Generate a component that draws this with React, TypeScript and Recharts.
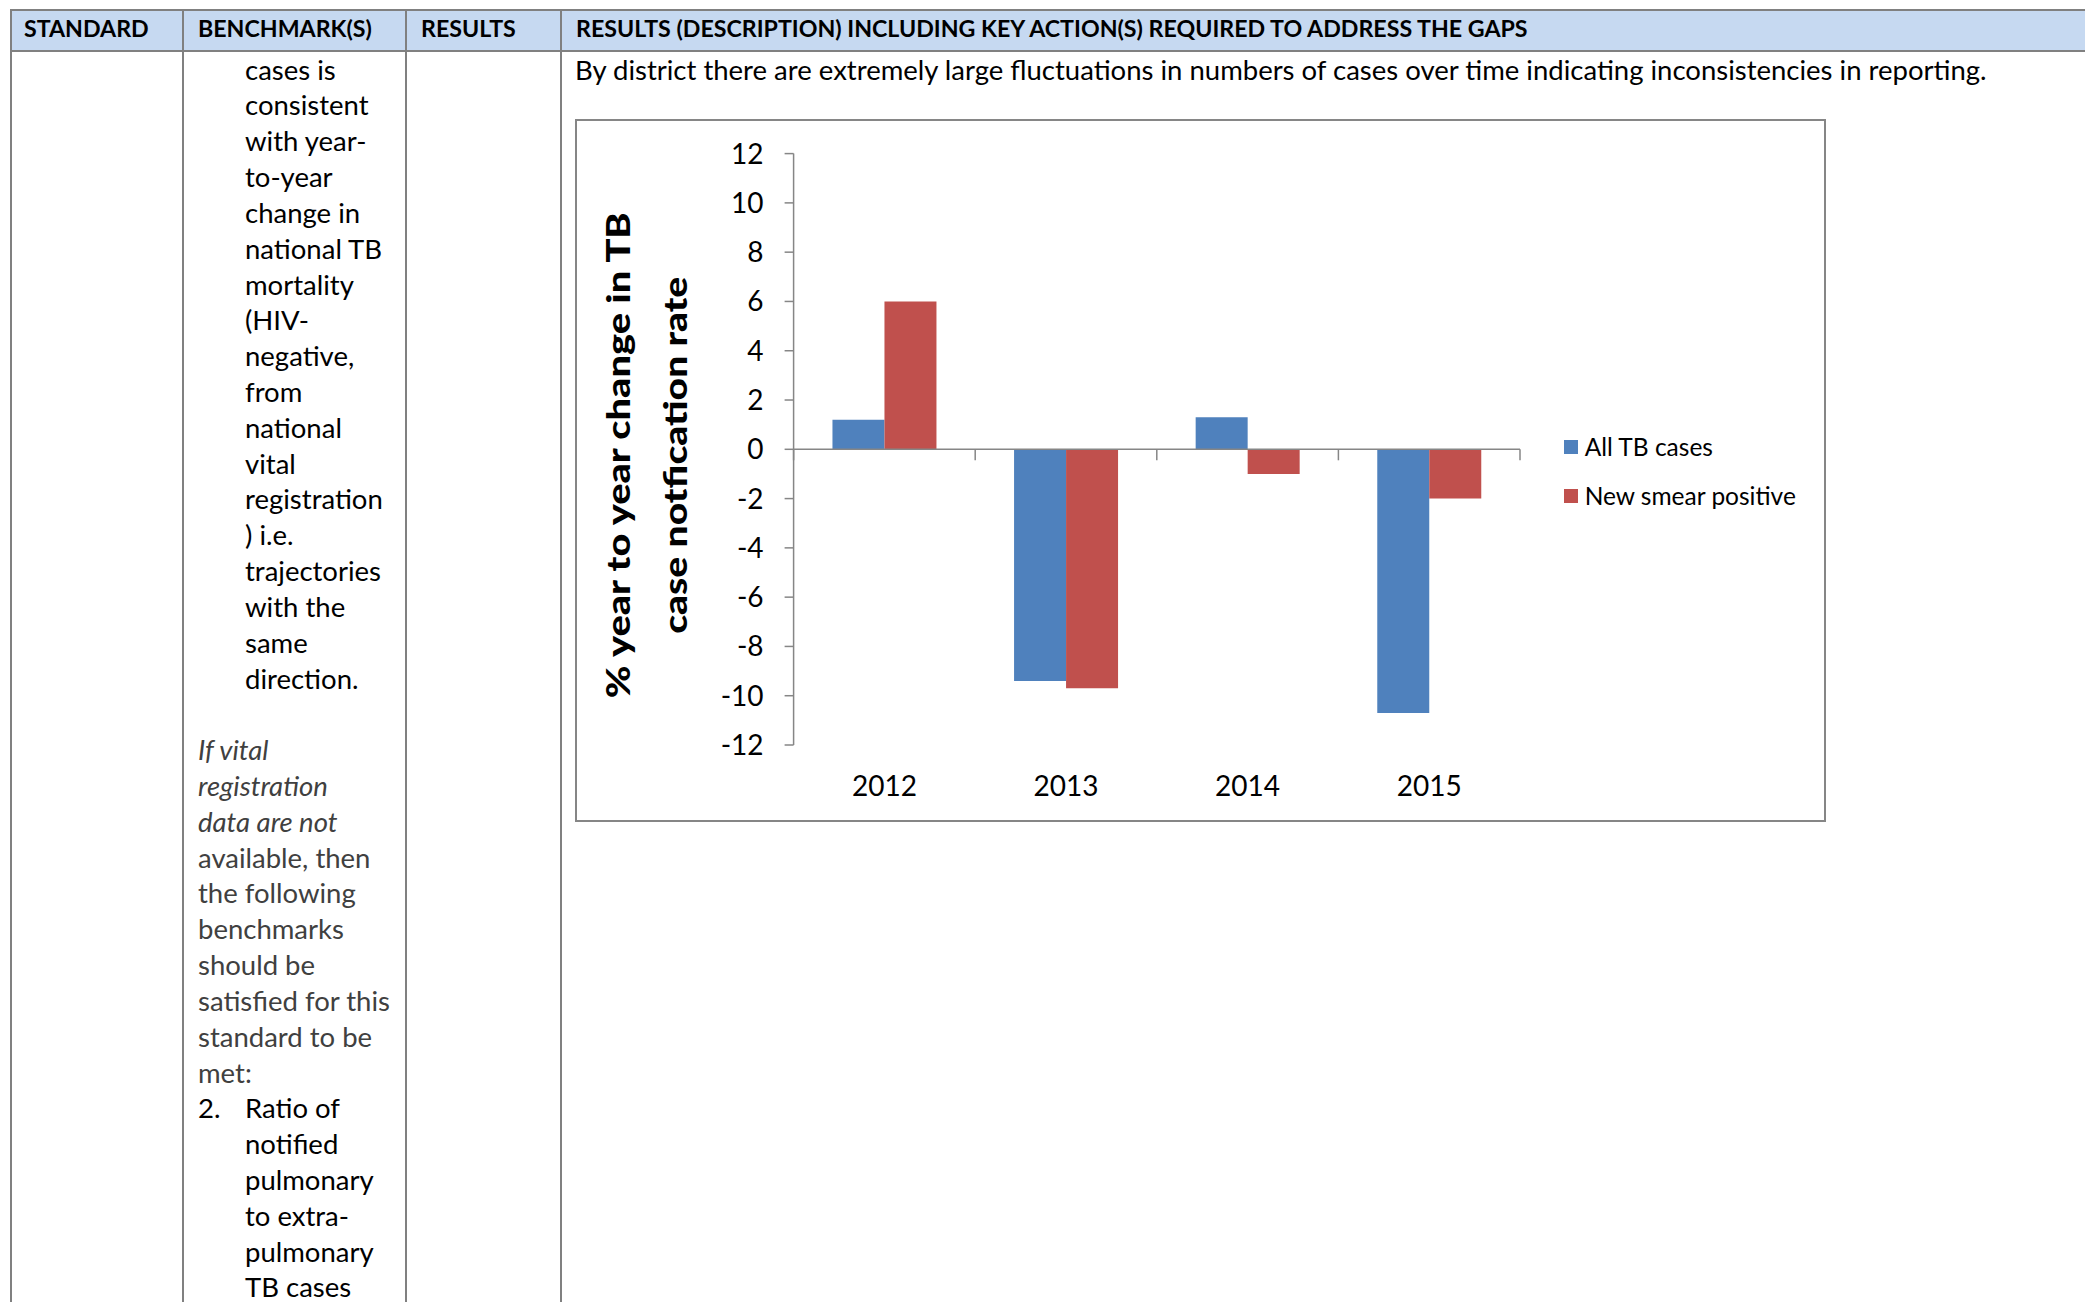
import React from "react";
import { BarChart, Bar, XAxis, YAxis, Legend, ReferenceLine } from "recharts";

// Year-to-year change (%) in TB case notification rate
const years = ["2012", "2013", "2014", "2015"];
const allTbCases = [1.2, -9.4, 1.3, -10.7];
const newSmearPositive = [6.0, -9.7, -1.0, -2.0];
const yTicks = [-12, -10, -8, -6, -4, -2, 0, 2, 4, 6, 8, 10, 12];
const seriesNames = ["All TB cases", "New smear positive"];
const yTitleLines = ["% year to year change in TB", "case notfication rate"];

// table text
const headers = ["STANDARD", "BENCHMARK(S)", "RESULTS", "RESULTS (DESCRIPTION) INCLUDING KEY ACTION(S) REQUIRED TO ADDRESS THE GAPS"];
const resultText =
  "By district there are extremely large fluctuations in numbers of cases over time indicating inconsistencies in reporting.";
const benchmarkLines = [
  "cases is", "consistent", "with year-", "to-year", "change in", "national TB", "mortality", "(HIV-",
  "negative,", "from", "national", "vital", "registration", ") i.e.", "trajectories", "with the", "same", "direction.",
];
const fallbackItalic = ["If vital", "registration", "data are not"];
const fallbackLines = [
  "available, then", "the following", "benchmarks", "should be", "satisfied for this", "standard to be", "met:",
];
const itemNumber = "2.";
const itemLines = ["Ratio of", "notified", "pulmonary", "to extra-", "pulmonary", "TB cases"];

const data = years.map((year, i) => ({ year, all: allTbCases[i], smear: newSmearPositive[i] }));

const BLUE = "#4F81BD";
const RED = "#C0504D";
const AXIS = "#868686";
const RULE = "#808080";
const FONT = "Lato, 'Open Sans', sans-serif";
const LINE = 35.82;

const YTitle = (props: any) => {
  const vb = props.viewBox || { x: 0, y: 0, width: 0, height: 0 };
  const cy = vb.y + vb.height / 2 + 6;
  const cols = [vb.x + 41, vb.x + 97.5];
  const lengths = [486, 357];
  return (
    <g>
      {yTitleLines.map((t, i) => (
        <text
          key={t}
          x={cols[i]}
          y={cy}
          transform={`rotate(-90, ${cols[i]}, ${cy})`}
          textAnchor="middle"
          dominantBaseline="central"
          fontFamily={FONT}
          fontWeight={900}
          fontSize={32}
          fill="#000"
          textLength={lengths[i]}
          lengthAdjust="spacingAndGlyphs"
        >
          {t}
        </text>
      ))}
    </g>
  );
};

// zero line with category-boundary tick marks hanging below it
const ZeroAxis = (props: any) => {
  const { x1, x2, y1 } = props;
  const step = (x2 - x1) / years.length;
  return (
    <g>
      <line x1={x1} y1={y1} x2={x2} y2={y1} stroke={AXIS} strokeWidth={1.5} />
      {years.concat("").map((_, i) => (
        <line key={i} x1={x1 + i * step} x2={x1 + i * step} y1={y1} y2={y1 + 11} stroke={AXIS} strokeWidth={1.5} />
      ))}
    </g>
  );
};

const renderLegend = (props: any) => {
  const payload = props.payload || [];
  return (
    <div style={{ fontFamily: FONT, fontSize: 24.5, color: "#000" }}>
      {payload.map((e: any) => (
        <div key={e.value} style={{ display: "flex", alignItems: "center", height: 49 }}>
          <span style={{ display: "inline-block", width: 14, height: 14, background: e.color, marginRight: 7 }} />
          <span style={{ whiteSpace: "nowrap" }}>{e.value}</span>
        </div>
      ))}
    </div>
  );
};

const abs = (s: React.CSSProperties): React.CSSProperties => ({ position: "absolute", ...s });

export default function App() {
  const headerLeft = [24, 198, 421, 576];
  const colLines = [10, 182, 405, 560];
  const bodyTop = 51.6;
  const lineDiv = (text: string, i: number, left: number, extra: React.CSSProperties = {}) => (
    <div key={`${text}-${i}-${left}`} style={abs({ left, top: bodyTop + i * LINE, lineHeight: `${LINE}px`, whiteSpace: "nowrap", ...extra })}>
      {text}
    </div>
  );
  const fbStart = benchmarkLines.length + 1;
  const itemStart = fbStart + fallbackItalic.length + fallbackLines.length;

  return (
    <div style={abs({ left: 0, top: 0, width: 2085, height: 1302, overflow: "hidden", background: "#fff", fontFamily: FONT, color: "#000" })}>
      {/* header band */}
      <div style={abs({ left: 10, top: 9, width: 2075, height: 43, background: "#C6D9F1" })} />
      <div style={abs({ left: 10, top: 9, width: 2075, height: 2, background: RULE })} />
      <div style={abs({ left: 10, top: 50, width: 2075, height: 2, background: RULE })} />
      {colLines.map((x) => (
        <div key={x} style={abs({ left: x, top: 9, width: 2, height: 1293, background: RULE })} />
      ))}
      {headers.map((h, i) => (
        <div key={h} style={abs({ left: headerLeft[i], top: 13, fontWeight: 700, fontSize: 23.2, lineHeight: "30px", whiteSpace: "nowrap" })}>
          {h}
        </div>
      ))}

      {/* body text */}
      <div style={{ fontSize: 27.5 }}>
        {lineDiv(resultText, 0, 575)}
        {benchmarkLines.map((t, i) => lineDiv(t, i, 245))}
        {fallbackItalic.map((t, i) => lineDiv(t, fbStart + i, 198, { fontStyle: "italic", color: "#404040" }))}
        {fallbackLines.map((t, i) => lineDiv(t, fbStart + fallbackItalic.length + i, 198, { color: "#404040" }))}
        {lineDiv(itemNumber, itemStart, 198)}
        {itemLines.map((t, i) => lineDiv(t, itemStart + i, 245))}
      </div>

      {/* chart frame */}
      <div style={abs({ left: 575, top: 119, width: 1251, height: 703, border: `2px solid ${AXIS}`, boxSizing: "border-box", background: "#fff" })}>
        <BarChart
          width={1247}
          height={699}
          data={data}
          margin={{ top: 32.6, right: 304, bottom: 15, left: 0 }}
          barCategoryGap="21.4%"
          barGap={0}
        >
          <XAxis
            dataKey="year"
            axisLine={false}
            tickLine={false}
            tickSize={0}
            tickMargin={31}
            height={60}
            interval={0}
            tick={{ fontSize: 28, fill: "#000", fontFamily: FONT }}
          />
          <YAxis
            type="number"
            domain={[-12, 12]}
            ticks={yTicks}
            interval={0}
            width={216.6}
            tickSize={9}
            tickMargin={21}
            axisLine={{ stroke: AXIS, strokeWidth: 1.5 }}
            tickLine={{ stroke: AXIS, strokeWidth: 1.5 }}
            tick={{ fontSize: 28, fill: "#000", fontFamily: FONT }}
            label={{ content: YTitle }}
          />
          <Bar dataKey="all" name={seriesNames[0]} fill={BLUE} isAnimationActive={false} />
          <Bar dataKey="smear" name={seriesNames[1]} fill={RED} isAnimationActive={false} />
          <ReferenceLine y={0} stroke={AXIS} strokeWidth={1.5} shape={ZeroAxis} />
          <Legend
            layout="vertical"
            align="center"
            verticalAlign="middle"
            wrapperStyle={{ left: 986.7, top: 301 }}
            content={renderLegend}
          />
        </BarChart>
      </div>
    </div>
  );
}
